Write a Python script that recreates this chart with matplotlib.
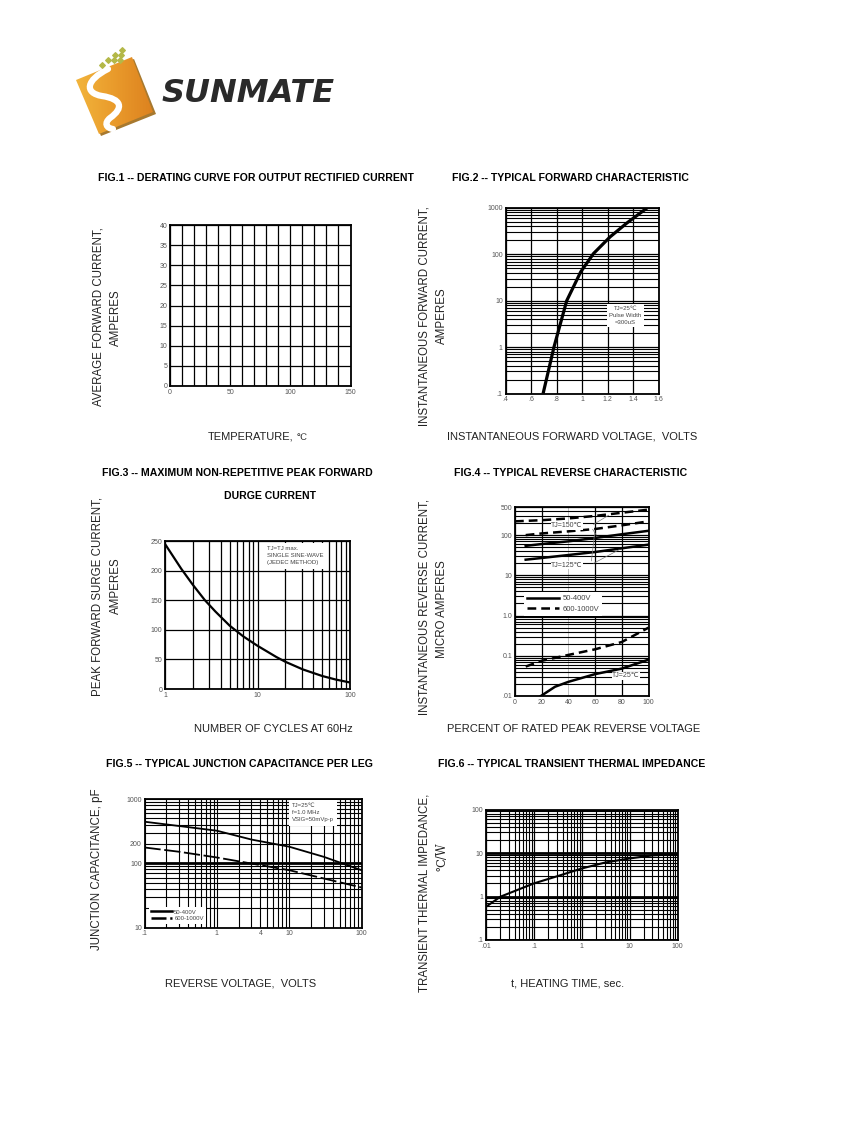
import numpy as np
import matplotlib
matplotlib.use('Agg')
import matplotlib.pyplot as plt
from matplotlib.path import Path
from matplotlib.patches import Polygon, PathPatch
from matplotlib.ticker import LogLocator, NullFormatter
from matplotlib.lines import Line2D

plt.rcParams['font.family'] = ['Liberation Sans', 'DejaVu Sans']

W, H = 847, 1125

# Fig.2 forward characteristic
fwd_volts = [0.695, 0.78, 0.88, 0.99, 1.09, 1.22, 1.35, 1.51]
fwd_amps = [0.1, 1, 10, 42, 104, 238, 470, 1000]

# Fig.3 surge current
cycles = [1, 1.5, 2, 2.7, 3.5, 5, 7, 10, 16, 20, 31, 50, 70, 100]
surge_amps = [245, 203, 176, 150, 131, 107, 89, 73, 54, 46, 33, 22, 16, 11]

# Fig.4 reverse characteristic (percent of rated voltage -> uA)
pct_150_hv = [0, 20, 40, 60, 80, 100]
ir_150_hv = [220, 235, 260, 300, 360, 430]
pct_125_hv = [8, 20, 40, 60, 80, 100]
ir_125_hv = [100, 110, 124, 142, 175, 220]
pct_150_lv = [8, 20, 40, 60, 80, 100]
ir_150_lv = [54, 60, 70, 85, 105, 128]
pct_125_lv = [8, 20, 40, 60, 80, 100]
ir_125_lv = [24.5, 27, 32, 38, 47, 58]
pct_25_hv = [8, 20, 40, 60, 80, 100]
ir_25_hv = [0.054, 0.075, 0.105, 0.145, 0.22, 0.5]
pct_25_lv = [19, 30, 40, 60, 80, 100]
ir_25_lv = [0.0098, 0.017, 0.0225, 0.035, 0.048, 0.08]

# Fig.5 junction capacitance
vr = [0.1, 0.3, 1, 3, 10, 30, 100]
cj_lv = [443, 380, 321, 234, 181, 126, 78]
cj_hv = [176, 151, 123, 99, 78, 58, 42]

# Fig.6 transient thermal impedance
t_heat = [0.01, 0.02, 0.1, 0.3, 1, 3, 10, 30, 100]
z_th = [0.58, 0.99, 2.0, 2.9, 4.4, 6.0, 7.5, 8.8, 9.4]


def rect(l, t, r, b):
    return [l / W, 1 - b / H, (r - l) / W, (b - t) / H]


def ftext(x, y, s, **kw):
    fig.text(x / W, 1 - y / H, s, **kw)


def style(ax):
    for s in ax.spines.values():
        s.set_linewidth(1.3)
        s.set_color('black')
    ax.tick_params(which='both', length=0, labelsize=5, labelcolor='#555', pad=2)
    ax.set_axisbelow(True)


def log_minor(axis):
    axis.set_minor_locator(LogLocator(base=10, subs=range(2, 10)))
    axis.set_minor_formatter(NullFormatter())


fig = plt.figure(figsize=(W / 100, H / 100), dpi=100)

# ---------- logo ----------
lg = fig.add_axes(rect(70, 45, 160, 140))
shadow = Polygon([(78, 82), (134, 59), (156, 114), (101, 136)], closed=True, fc='#a7792f', ec='none', zorder=0)
lg.add_patch(shadow)
sq = Polygon([(76, 80), (132, 57), (153, 112), (99, 134)], closed=True, fc='none', ec='none')
lg.add_patch(sq)
grad = np.linspace(0, 1, 100).reshape(1, -1)
cmap = matplotlib.colors.LinearSegmentedColormap.from_list('lg', ['#f2b53c', '#e99a2b', '#dc801e'])
im = lg.imshow(grad, extent=(75, 155, 135, 55), cmap=cmap, aspect='auto', zorder=1)
im.set_clip_path(sq)
s_path = Path([(108, 69), (86, 80), (84, 93), (102, 96), (122, 99), (124, 108), (110, 118),
               (104, 123), (106, 128), (113, 129)],
              [Path.MOVETO, Path.CURVE4, Path.CURVE4, Path.CURVE4, Path.CURVE4, Path.CURVE4, Path.CURVE4,
               Path.CURVE4, Path.CURVE4, Path.CURVE4])
lg.add_patch(PathPatch(s_path, fc='none', ec='white', lw=4.5, capstyle='round', zorder=3))
dots = [(122, 50), (115, 55), (121, 55), (108, 60), (114, 60), (120, 60), (102, 65)]
lg.scatter([d[0] for d in dots], [d[1] for d in dots], marker='D', s=8, color='#b4b848', zorder=5)
lg.set_xlim(70, 160)
lg.set_ylim(140, 45)
lg.axis('off')
ftext(162, 93, 'SUNMATE', fontsize=23, fontweight='bold', fontstyle='italic',
      family='DejaVu Sans', color='#2a2a2a', va='center', ha='left')

# ---------- titles ----------
tkw = dict(fontsize=7.6, fontweight='bold', ha='center', va='center')
ftext(256, 178, 'FIG.1 -- DERATING CURVE FOR OUTPUT RECTIFIED CURRENT', **tkw)
ftext(570, 178, 'FIG.2 -- TYPICAL FORWARD CHARACTERISTIC', **tkw)
ftext(237, 473, 'FIG.3 -- MAXIMUM NON-REPETITIVE PEAK FORWARD', **tkw)
ftext(270, 496, 'DURGE CURRENT', **tkw)
ftext(571, 473, 'FIG.4 -- TYPICAL REVERSE CHARACTERISTIC', **tkw)
ftext(239, 764, 'FIG.5 -- TYPICAL JUNCTION CAPACITANCE PER LEG', **tkw)
ftext(572, 764, 'FIG.6 -- TYPICAL TRANSIENT THERMAL IMPEDANCE', **tkw)

# ---------- axis labels ----------
ykw = dict(fontsize=8.3, rotation=90, ha='center', va='center', color='#222')
xkw = dict(fontsize=8, ha='center', va='center', color='#222')
ftext(98, 317, 'AVERAGE FORWARD CURRENT,', **ykw)
ftext(116, 318, 'AMPERES', **ykw)
ftext(424, 316, 'INSTANTANEOUS FORWARD CURRENT,', **ykw)
ftext(442, 316, 'AMPERES', **ykw)
ftext(97, 596, 'PEAK FORWARD SURGE CURRENT,', **ykw)
ftext(116, 586, 'AMPERES', **ykw)
ftext(424, 607, 'INSTANTANEOUS REVERSE CURRENT,', **ykw)
ftext(442, 609, 'MICRO AMPERES', **ykw)
ftext(97, 869, 'JUNCTION CAPACITANCE, pF', **ykw)
ftext(424, 893, 'TRANSIENT THERMAL IMPEDANCE,', **ykw)
ftext(442, 857, '℃/W', fontsize=8.3, rotation=90, ha='center', va='center', family='DejaVu Serif', color='#222')

ftext(208, 437, 'TEMPERATURE,', fontsize=8, ha='left', va='center', color='#222')
ftext(302, 438, '℃', fontsize=6.5, ha='center', va='center', family='DejaVu Serif', color='#222')
ftext(572, 437, 'INSTANTANEOUS FORWARD VOLTAGE,  VOLTS', **xkw)
ftext(273, 729, 'NUMBER OF CYCLES AT 60Hz', **xkw)
ftext(574, 729, 'PERCENT OF RATED PEAK REVERSE VOLTAGE', **xkw)
ftext(241, 983, 'REVERSE VOLTAGE,  VOLTS', **xkw)
ftext(568, 983, 't, HEATING TIME, sec.', **xkw)

box = dict(fc='white', ec='none', pad=1.5)
note = 4.3

# ---------- Fig.1 ----------
ax1 = fig.add_axes(rect(170, 225, 350.5, 386))
style(ax1)
ax1.set_xlim(0, 150)
ax1.set_ylim(0, 40)
ax1.set_xticks([0, 50, 100, 150])
ax1.set_xticks(range(0, 151, 10), minor=True)
ax1.set_yticks(range(0, 41, 5))
ax1.grid(which='both', color='black', lw=0.9)

# ---------- Fig.2 ----------
ax2 = fig.add_axes(rect(505.5, 208, 658.5, 393.5))
style(ax2)
ax2.set_yscale('log')
ax2.set_xlim(0.4, 1.6)
ax2.set_ylim(0.1, 1000)
ax2.set_xticks([0.4, 0.6, 0.8, 1.0, 1.2, 1.4, 1.6], ['.4', '.6', '.8', '1', '1.2', '1.4', '1.6'])
ax2.set_yticks([0.1, 1, 10, 100, 1000], ['.1', '1', '10', '100', '1000'])
log_minor(ax2.yaxis)
ax2.grid(which='major', color='black', lw=0.9)
ax2.grid(which='minor', axis='y', color='black', lw=0.8)
ax2.plot(fwd_volts, fwd_amps, color='black', lw=2.3, solid_capstyle='butt', solid_joinstyle='round')
ax2.text(0.784, 0.42, 'TJ=25℃\nPulse Width\n=300uS', transform=ax2.transAxes, fontsize=note,
         ha='center', va='center', linespacing=1.5, color='#444', bbox=box)

# ---------- Fig.3 ----------
ax3 = fig.add_axes(rect(165, 541, 350, 689))
style(ax3)
ax3.set_xscale('log')
ax3.set_xlim(1, 100)
ax3.set_ylim(0, 250)
ax3.set_xticks([1, 10, 100], ['1', '10', '100'])
log_minor(ax3.xaxis)
ax3.set_yticks(range(0, 251, 50))
ax3.grid(which='both', color='black', lw=0.9)
ax3.plot(cycles, surge_amps, color='black', lw=1.6, solid_joinstyle='round')
ax3.text(0.55, 0.965, 'TJ=TJ max.\nSINGLE SINE-WAVE\n(JEDEC METHOD)', transform=ax3.transAxes,
         fontsize=note, ha='left', va='top', linespacing=1.5, color='#444',
         bbox=dict(fc='white', ec='none', pad=2.5))

# ---------- Fig.4 ----------
ax4 = fig.add_axes(rect(515, 507, 648.5, 696))
style(ax4)
ax4.set_yscale('log')
ax4.set_xlim(0, 100)
ax4.set_ylim(0.01, 500)
ax4.set_xticks(range(0, 101, 20))
ax4.set_yticks([0.01, 0.1, 1, 10, 100, 500], ['.01', '0.1', '1.0', '10', '100', '500'])
log_minor(ax4.yaxis)
ax4.grid(which='major', color='black', lw=0.9)
ax4.grid(which='minor', axis='y', color='black', lw=0.8)
ax4.get_xgridlines()[2].set_color('#aaa')
ax4.get_xgridlines()[2].set_linewidth(0.5)
dash = dict(color='black', lw=1.8, ls=(0, (3.5, 2)))
solid = dict(color='black', lw=1.8)
ax4.plot(pct_150_hv, ir_150_hv, **dash)
ax4.plot(pct_125_hv, ir_125_hv, **dash)
ax4.plot(pct_150_lv, ir_150_lv, **solid)
ax4.plot(pct_125_lv, ir_125_lv, **solid)
ax4.plot(pct_25_hv, ir_25_hv, **dash)
ax4.plot(pct_25_lv, ir_25_lv, **solid)
lead = dict(arrowstyle='-', lw=0.5, color='#777')
ax4.annotate('', xy=(72, 340), xytext=(0.57, 0.90), textcoords='axes fraction', arrowprops=lead)
ax4.annotate('', xy=(62, 88), xytext=(0.57, 0.895), textcoords='axes fraction', arrowprops=lead)
ax4.annotate('', xy=(60, 142), xytext=(0.57, 0.70), textcoords='axes fraction', arrowprops=lead)
ax4.annotate('', xy=(80, 47), xytext=(0.57, 0.695), textcoords='axes fraction', arrowprops=lead)
lab = dict(fontsize=5, ha='center', va='center', color='#444', bbox=dict(fc='white', ec='none', pad=0.2))
ax4.text(0.39, 0.90, 'TJ=150℃', transform=ax4.transAxes, **lab)
ax4.text(0.39, 0.693, 'TJ=125℃', transform=ax4.transAxes, **lab)
ax4.text(0.83, 0.106, 'TJ=25℃', transform=ax4.transAxes, **lab)
h4 = [Line2D([], [], **solid), Line2D([], [], **dash)]
lg4 = ax4.legend(h4, ['50-400V', '600-1000V'], loc='upper left', bbox_to_anchor=(0.04, 0.57),
                 fontsize=5.5, handlelength=4.2, handletextpad=0.4, labelspacing=0.35,
                 borderpad=0.4, frameon=True, fancybox=False, edgecolor='none', framealpha=1)
for t in lg4.get_texts():
    t.set_color('#444')

# ---------- Fig.5 ----------
ax5 = fig.add_axes(rect(144.5, 799, 361.5, 927.5))
style(ax5)
ax5.set_xscale('log')
ax5.set_yscale('log')
ax5.set_xlim(0.1, 100)
ax5.set_ylim(10, 1000)
ax5.set_xticks([0.1, 1, 4, 10, 100], ['.1', '1', '4', '10', '100'])
ax5.set_yticks([10, 100, 200, 1000], ['10', '100', '200', '1000'])
log_minor(ax5.xaxis)
log_minor(ax5.yaxis)
ax5.grid(which='both', color='black', lw=0.8)
ax5.get_ygridlines()[1].set_linewidth(2.0)
ax5.plot(vr, cj_lv, color='black', lw=1.3)
ax5.plot(vr, cj_hv, color='black', lw=1.3, ls=(0, (9, 2)))
ax5.text(0.68, 0.965, 'TJ=25℃\nf=1.0 MHz\nVSIG=50mVp-p', transform=ax5.transAxes, fontsize=note,
         ha='left', va='top', linespacing=1.5, color='#444', bbox=dict(fc='white', ec='none', pad=2.5))
h5 = [Line2D([], [], color='black', lw=1.8), Line2D([], [], color='black', lw=1.8, ls=(0, (6, 1.5)))]
lg5 = ax5.legend(h5, ['50-400V', '600-1000V'], loc='lower left', bbox_to_anchor=(0.005, 0.005),
                 fontsize=4.3, handlelength=3.6, handletextpad=0.3, labelspacing=0.3,
                 borderpad=0.4, frameon=True, fancybox=False, edgecolor='none', framealpha=1)
for t in lg5.get_texts():
    t.set_color('#444')

# ---------- Fig.6 ----------
ax6 = fig.add_axes(rect(486, 809.5, 677.5, 940))
style(ax6)
ax6.set_xscale('log')
ax6.set_yscale('log')
ax6.set_xlim(0.01, 100)
ax6.set_ylim(0.1, 100)
ax6.set_xticks([0.01, 0.1, 1, 10, 100], ['.01', '.1', '1', '10', '100'])
ax6.set_yticks([0.1, 1, 10, 100], ['.1', '1', '10', '100'])
log_minor(ax6.xaxis)
log_minor(ax6.yaxis)
ax6.grid(which='minor', color='black', lw=0.8)
ax6.grid(which='major', axis='x', color='black', lw=0.9)
ax6.grid(which='major', axis='y', color='black', lw=2.0)
ax6.plot(t_heat, z_th, color='black', lw=1.5)

fig.savefig('out.png', dpi=100, facecolor='white')
